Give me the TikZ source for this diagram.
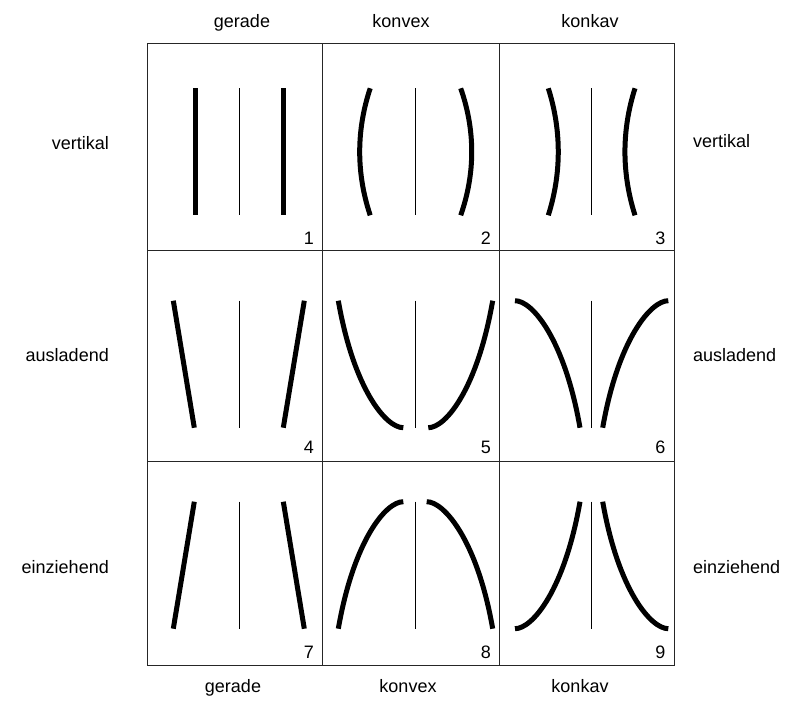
\documentclass[tikz,border=0pt]{standalone}
\usepackage{fontspec}
\setmainfont{Liberation Sans}
\usetikzlibrary{positioning}

\begin{document}
\begin{tikzpicture}[
  x=1pt, y=-1pt,
  font=\fontsize{18}{22}\selectfont,
  frame/.style={draw=black!85, line width=0.9pt},
  contour/.style={line width=5pt},
  axisline/.style={line width=0.8pt},
  cellnum/.style={anchor=east, inner sep=0pt},
  colhead/.style={anchor=base, inner sep=0pt},
  rowhead/.style={inner sep=0pt}
]
  \useasboundingbox (0,0) rectangle (788,702);

  % grid
  \draw[frame] (147,43.3) rectangle (674,665.7);
  \draw[frame] (322.3,43.3) -- (322.3,665.7) (499.3,43.3) -- (499.3,665.7);
  \draw[frame] (147,250.5) -- (674,250.5) (147,461.5) -- (674,461.5);

  % column labels
  \node[colhead] (geradeTop) at (242,27) {gerade};
  \node[colhead] (konvexTop) at (401,27) {konvex};
  \node[colhead] (konkavTop) at (590,27) {konkav};
  \node[colhead] (geradeBot) at (233,692.5) {gerade};
  \node[colhead] (konvexBot) at (408,692.5) {konvex};
  \node[colhead] (konkavBot) at (580,692.5) {konkav};

  % row labels
  \node[rowhead, anchor=east] (vertikalL) at (109,143) {vertikal};
  \node[rowhead, anchor=east] (ausladendL) at (109,355) {ausladend};
  \node[rowhead, anchor=east] (einziehendL) at (109,567) {einziehend};
  \node[rowhead, anchor=west] (vertikalR) at (693,141) {vertikal};
  \node[rowhead, anchor=west] (ausladendR) at (693,355) {ausladend};
  \node[rowhead, anchor=west] (einziehendR) at (693,567) {einziehend};

  % thin middle lines
  \foreach \cx in {239,415.7,591.3}
    \foreach \ty in {88.3,300.7,501.7}
      \draw[axisline] (\cx,\ty) -- ++(0,127);

  % 1
  \begin{scope}[shift={(239,88.3)}]
    \draw[contour] (-44,0) -- (-44,127) (44.3,0) -- (44.3,127);
  \end{scope}
  % 2
  \begin{scope}[shift={(415.7,88.3)}]
    \draw[contour] (-45.5,0) .. controls (-59.5,42) and (-59.5,85) .. (-45.5,127);
    \draw[contour] (45,0) .. controls (59.7,42) and (59.7,85) .. (45,127);
  \end{scope}
  % 3
  \begin{scope}[shift={(591.3,88.3)}]
    \draw[contour] (-43,0) .. controls (-29.7,42) and (-29.7,85) .. (-43,127);
    \draw[contour] (43.7,0) .. controls (30.3,42) and (30.3,85) .. (43.7,127);
  \end{scope}
  % 4
  \begin{scope}[shift={(239,300.7)}]
    \draw[contour] (-65.7,0) -- (-44.7,127) (65.3,0) -- (44.3,127);
  \end{scope}
  % 5
  \begin{scope}[shift={(415.7,300.7)}]
    \draw[contour] (-77.4,0) .. controls (-62,88) and (-30,127) .. (-12.4,127);
    \draw[contour] (77,0) .. controls (61.6,88) and (30.2,127) .. (12.6,127);
  \end{scope}
  % 6
  \begin{scope}[shift={(591.3,300.7)}]
    \draw[contour] (-76.3,0) .. controls (-58.7,0) and (-26.7,39) .. (-11.3,127);
    \draw[contour] (77,0) .. controls (59.4,0) and (26.8,39) .. (11.4,127);
  \end{scope}
  % 7
  \begin{scope}[shift={(239,501.7)}]
    \draw[contour] (-44.7,0) -- (-65.7,127) (44.3,0) -- (65.3,127);
  \end{scope}
  % 8
  \begin{scope}[shift={(415.7,501.7)}]
    \draw[contour] (-77.4,127) .. controls (-62,39) and (-30,0) .. (-12.4,0);
    \draw[contour] (77,127) .. controls (61.6,39) and (28.6,0) .. (11,0);
  \end{scope}
  % 9
  \begin{scope}[shift={(591.3,501.7)}]
    \draw[contour] (-76.3,127) .. controls (-58.7,127) and (-26.7,88) .. (-11.3,0);
    \draw[contour] (77,127) .. controls (59.4,127) and (26.8,88) .. (11.4,0);
  \end{scope}

  % cell numbers
  \foreach \n/\x/\y in {1/314/238, 2/491/238, 3/665.5/238,
                        4/314/447.5, 5/491/447.5, 6/665.5/447.5,
                        7/314/652.5, 8/491/652.5, 9/665.5/652.5}
    \node[cellnum] (num\n) at (\x,\y) {\n};
\end{tikzpicture}
\end{document}
